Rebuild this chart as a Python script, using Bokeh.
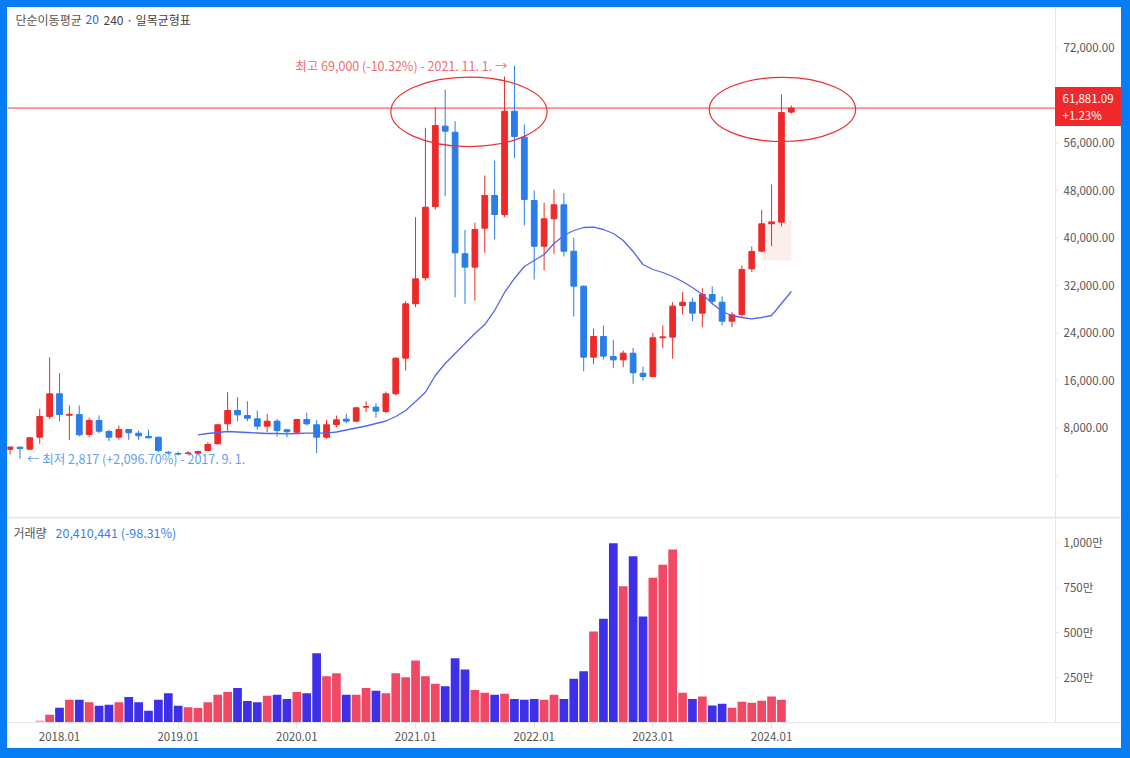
from bokeh.plotting import figure
from bokeh.layouts import column
from bokeh.models import (ColumnDataSource, FixedTicker, Label, Range1d,
                          GlobalInlineStyleSheet)
from bokeh.core.properties import value
from bokeh.embed import file_html
from bokeh.resources import INLINE

# ---------------- data (monthly candles 2017.08 - 2024.03) ----------------
months = []
_y, _m = 2017, 8
while (_y, _m) <= (2024, 3):
    months.append(f"{_y}.{_m:02d}")
    _m += 1
    if _m > 12:
        _y, _m = _y + 1, 1

opens = [4400, 4770, 4430, 6450, 9940,
         13760, 10150, 10270, 6900, 9260, 7410, 6450, 7750, 7120, 6570, 6450, 3900,
         3700, 3700, 3750, 4210, 5340, 8710, 10950, 10100, 9550, 8300, 9150, 7700,
         7290, 9430, 8540, 6450, 8590, 9490, 9150, 11510, 11510, 10780, 13760, 19760,
         28920, 33290, 45300, 58840, 57820, 37340, 35090, 41650, 47160, 43960, 61350, 56980,
         46320, 38620, 43230, 45590, 37780, 31880, 19930, 23410, 20040, 19480, 20600, 17230,
         16670, 23190, 23300, 28630, 29190, 27340, 30480, 29190, 25990, 27120, 34810, 37780,
         42400, 42670, 61200]
highs = [4850, 4880, 6450, 11230, 19900,
         17230, 11800, 11790, 9720, 10100, 7700, 8420, 7800, 7580, 7750, 6500, 4150,
         4000, 4100, 4200, 5610, 8710, 14030, 13190, 12510, 10950, 10390, 9550, 7800,
         9550, 10560, 9380, 9380, 10100, 10390, 11570, 12510, 12180, 14150, 19930, 29360,
         43500, 58560, 62030, 64960, 59680, 41380, 42560, 50530, 53050, 67200, 69000, 59110,
         48000, 45930, 48170, 47550, 40030, 32000, 24710, 25260, 22850, 21050, 21500, 18360,
         24030, 25260, 29190, 30870, 29930, 31540, 31830, 30150, 27510, 35370, 38570, 44750,
         49010, 64170, 62320]
lows = [3540, 2817, 4300, 5340, 9550,
        9150, 6000, 6570, 6450, 7120, 5780, 6010, 6010, 6010, 6300, 3920, 3500,
        3400, 3500, 3600, 4090, 5220, 7580, 9150, 9150, 7700, 7290, 6570, 6450,
        7120, 8420, 3760, 6180, 8140, 8810, 8980, 10660, 9720, 10490, 13470, 17680,
        28350, 32800, 44800, 47040, 30030, 28920, 29470, 37510, 39750, 43500, 53500, 42100,
        33010, 34530, 37340, 36900, 26780, 17570, 18810, 19540, 18070, 18240, 15440, 16000,
        16560, 21440, 19650, 27120, 25990, 24980, 28800, 25260, 24980, 26670, 34250, 37610,
        38620, 41940, 60920]
closes = [4800, 4550, 6350, 9940, 13760,
          10270, 10300, 6850, 9260, 7460, 6450, 7750, 7190, 6680, 6340, 4210, 3800,
          3600, 3800, 4040, 5220, 8540, 10950, 10220, 9650, 8300, 9150, 7580, 7360,
          9430, 8710, 6450, 8540, 9380, 9150, 11400, 11620, 10840, 13760, 19760, 28920,
          33120, 45190, 58950, 57990, 37500, 35090, 41430, 47160, 43960, 61350, 57090, 46490,
          38620, 43230, 45590, 37780, 31880, 19930, 23410, 20100, 19480, 20600, 17300, 16670,
          23190, 23350, 28520, 29190, 27340, 30480, 29360, 25990, 27060, 34700, 37730, 42390,
          42700, 61130, 61881.09]
# volume in 만 (10,000 shares); None = no bar
volumes = [None, None, None, 11, 43,
           82, 126, 126, 113, 93, 98, 113, 141, 113, 65, 126, 163,
           93, 85, 80, 113, 154, 169, 191, 120, 113, 148, 154, 131,
           169, 163, 385, 257, 274, 154, 154, 191, 176, 163, 274, 252,
           344, 257, 215, 202, 357, 294, 181, 165, 154, 159, 131, 126,
           131, 126, 154, 131, 243, 285, 506, 576, 996, 757, 924, 589,
           804, 876, 961, 165, 131, 144, 94, 104, 82, 115, 109, 121,
           144, 126, 2]
# 20-month simple moving average as drawn (starts 2019.03)
sma20 = [None] * 19 + [
    6855, 7074, 7242, 7410, 7326, 7242, 7158, 7074, 7074, 7023,
    7074, 7124, 7124, 7124, 7326, 7663, 8000, 8337, 8758, 9179, 9937, 10947,
    12463, 14029, 16842, 18863, 20547, 22231, 23916, 25431, 27789, 30821, 33179, 35200,
    36210, 37221, 39073, 40421, 41263, 41768, 41819, 41431, 40758, 39579, 37726, 35537,
    34695, 34189, 33516, 32674, 31663, 30484, 28968, 27621, 26947, 26610, 26391, 26610,
    26947, 28968, 30989]
# faint ichimoku cloud fragment
cloud_months = ["2023.12", "2024.03"]
cloud_low, cloud_high = 36210, 42950

tick_labels = ["2018.01", "2019.01", "2020.01", "2021.01", "2022.01", "2023.01", "2024.01"]
price_ticks = [0, 8000, 16000, 24000, 32000, 40000, 48000, 56000, 72000]
volume_ticks = [250, 500, 750, 1000]

last_price = 61881.09
last_change = "+1.23%"
high_text = "최고 69,000 (-10.32%) - 2021. 11. 1. →"
high_month, high_value = "2021.11", 69000
low_text = "← 최저 2,817 (+2,096.70%) - 2017. 9. 1."
low_month, low_value = "2017.09", 2817
volume_title = "거래량"
volume_value = "20,410,441 (-98.31%)"

# highlight ellipses: (center month index, center price, width months, height price)
ellipses = [(41.4, 61250, 15.8, 11700), (73.1, 61650, 14.8, 10800)]


def x_of(label):
    yy, mm = map(int, label.split("."))
    return (yy - 2018) * 12 + (mm - 1)


# ---------------- style / layout constants ----------------
FONT = "Noto Sans CJK KR"
RED, BLUE = "#ed2a2a", "#2b7de9"
VRED, VBLUE = "#f04865", "#3e30e8"
AXIS_GREY = "#e6e6e6"
LABEL_GREY = "#555555"

FRAME_W = 1048          # data area width (px)
RIGHT_W = 66            # axis strip width (px)
TOTAL_W = FRAME_W + RIGHT_W
PRICE_H = 510
VOL_H = 204
X0, X1 = -5.258, 100.71  # month-index range of the data area
Y0, Y1 = -7074, 78821
V0, V1 = 0, 1133
PPU = FRAME_W / (X1 - X0)              # px per month
PPY = PRICE_H / (Y1 - Y0)              # px per price unit
PPV = VOL_H / (V1 - V0)
XR = X0 + TOTAL_W / PPU                # right edge incl. axis strip

xs = [x_of(mo) for mo in months]
up = [c >= o for o, c in zip(opens, closes)]
src = ColumnDataSource(dict(
    x=xs,
    top=[max(o, c) for o, c in zip(opens, closes)],
    bottom=[min(o, c) for o, c in zip(opens, closes)],
    high=highs, low=lows,
    color=[RED if u else BLUE for u in up],
))

xr = Range1d(X0, XR)


def right_axis(fig, ticks, labels, ylo, yhi):
    """value axis drawn in the strip right of the data area"""
    fig.segment(x0=[X1], x1=[X1], y0=[ylo], y1=[yhi], line_color=AXIS_GREY, line_width=1)
    fig.segment(x0=[X1] * len(ticks), x1=[X1 + 3 / PPU] * len(ticks),
                y0=ticks, y1=ticks, line_color=AXIS_GREY, line_width=1)
    lt = [(t, s) for t, s in zip(ticks, labels) if s]
    fig.text(x=[X1 + 8 / PPU] * len(lt), y=[t for t, _ in lt], text=[s for _, s in lt],
             text_align="left", text_baseline="middle", text_font=value(FONT),
             text_font_size="11.5px", text_color=LABEL_GREY)


# ---------------- price panel ----------------
p = figure(width=TOTAL_W, height=PRICE_H, x_range=xr,
           y_range=Range1d(Y0, Y1), x_axis_location=None, y_axis_location=None,
           output_backend="svg", toolbar_location=None,
           min_border_left=0, min_border_right=0, min_border_top=0, min_border_bottom=0)
p.outline_line_color = None
p.grid.visible = False

p.quad(left=[x_of(cloud_months[0])], right=[x_of(cloud_months[1])],
       bottom=[cloud_low], top=[cloud_high], fill_color="#fdeeee", line_color=None)

p.segment(x0=[X0], x1=[X1], y0=[last_price], y1=[last_price],
          line_color="#f23b3b", line_width=1)

p.segment(x0="x", y0="low", x1="x", y1="high", line_color="color", line_width=1, source=src)
p.vbar(x="x", width=0.58, top="top", bottom="bottom", fill_color="color",
       line_color="color", line_width=1, source=src)

sx = [x for x, s in zip(xs, sma20) if s is not None]
sy = [s for s in sma20 if s is not None]
p.line(sx, sy, line_color="#5466ee", line_width=1.3)

p.ellipse(x=[e[0] for e in ellipses], y=[e[1] for e in ellipses],
          width=[e[2] for e in ellipses], height=[e[3] for e in ellipses],
          fill_color=None, line_color="#ee3030", line_width=1.2)

right_axis(p, price_ticks, ["" if t == 0 else f"{t:,.2f}" for t in price_ticks], Y0, Y1)

# price box on the axis strip
half = 19.5 / PPY
p.quad(left=[X1 - 0.5 / PPU], right=[XR], bottom=[last_price - half + 1.5 / PPY],
       top=[last_price + half + 1.5 / PPY], fill_color="#f0282a", line_color=None)
p.text(x=[X1 + 7 / PPU] * 2,
       y=[last_price + 9.5 / PPY, last_price - 6.5 / PPY],
       text=[f"{last_price:,.2f}", last_change],
       text_align="left", text_baseline="middle", text_font=value(FONT),
       text_font_size="11.5px", text_color="white")

p.add_layout(Label(x=x_of(high_month), y=high_value, text=high_text, x_offset=-7,
                   text_align="right", text_baseline="middle", text_font=FONT,
                   text_font_size="12.5px", text_color="#f26d6d"))
p.add_layout(Label(x=x_of(low_month), y=low_value, text=low_text, x_offset=7,
                   text_align="left", text_baseline="middle", text_font=FONT,
                   text_font_size="12.5px", text_color="#5f9ff0"))

for tx, txt, col in [(8, "단순이동평균", "#555555"), (78, "20", "#2962ff"),
                     (96, "240 · 일목균형표", "#444444")]:
    p.add_layout(Label(x=tx, y=PRICE_H - 12, x_units="screen", y_units="screen", text=txt,
                       text_align="left", text_baseline="middle", text_font=FONT,
                       text_font_size="12px", text_color=col))

# ---------------- volume panel ----------------
vx = [x for x, vv in zip(xs, volumes) if vv is not None]
vtop = [vv for vv in volumes if vv is not None]
vcol = [VRED if u else VBLUE for u, vv in zip(up, volumes) if vv is not None]
valpha = [0.45 if i == 0 else 1.0 for i in range(len(vx))]
vsrc = ColumnDataSource(dict(x=vx, top=vtop, color=vcol, alpha=valpha))

v = figure(width=TOTAL_W, height=VOL_H + 26, x_range=xr, y_range=Range1d(V0, V1),
           y_axis_location=None, output_backend="svg", toolbar_location=None,
           min_border_left=0, min_border_right=0, min_border_top=0, min_border_bottom=26)
v.outline_line_color = None
v.grid.visible = False
v.vbar(x="x", width=0.88, top="top", bottom=0, fill_color="color", fill_alpha="alpha",
       line_color=None, source=vsrc)

right_axis(v, volume_ticks, [f"{t:,}만" for t in volume_ticks], V0, V1)

vxa = v.xaxis[0]
vxa.ticker = FixedTicker(ticks=[x_of(t) for t in tick_labels])
vxa.major_label_overrides = {x_of(t): t for t in tick_labels}
vxa.axis_line_color = AXIS_GREY
vxa.major_tick_line_color = AXIS_GREY
vxa.major_tick_out = 6
vxa.major_tick_in = 0
vxa.minor_tick_line_color = None
vxa.major_label_standoff = 3
vxa.major_label_text_font = FONT
vxa.major_label_text_font_size = "11.5px"
vxa.major_label_text_color = LABEL_GREY

v.add_layout(Label(x=6, y=VOL_H - 14, x_units="screen", y_units="screen", text=volume_title,
                   text_align="left", text_baseline="middle", text_font=FONT,
                   text_font_size="12px", text_color="#555555"))
v.add_layout(Label(x=48, y=VOL_H - 14, x_units="screen", y_units="screen", text=volume_value,
                   text_align="left", text_baseline="middle", text_font=FONT,
                   text_font_size="12.5px", text_color="#3b7ff0"))

layout = column(p, v, spacing=1, styles={"background-color": "#e6e6e6"})
layout.stylesheets = [GlobalInlineStyleSheet(
    css="html, body { background-color: #067df3; } body { padding: 7px; }")]

open("out.html", "w").write(file_html(layout, INLINE))
